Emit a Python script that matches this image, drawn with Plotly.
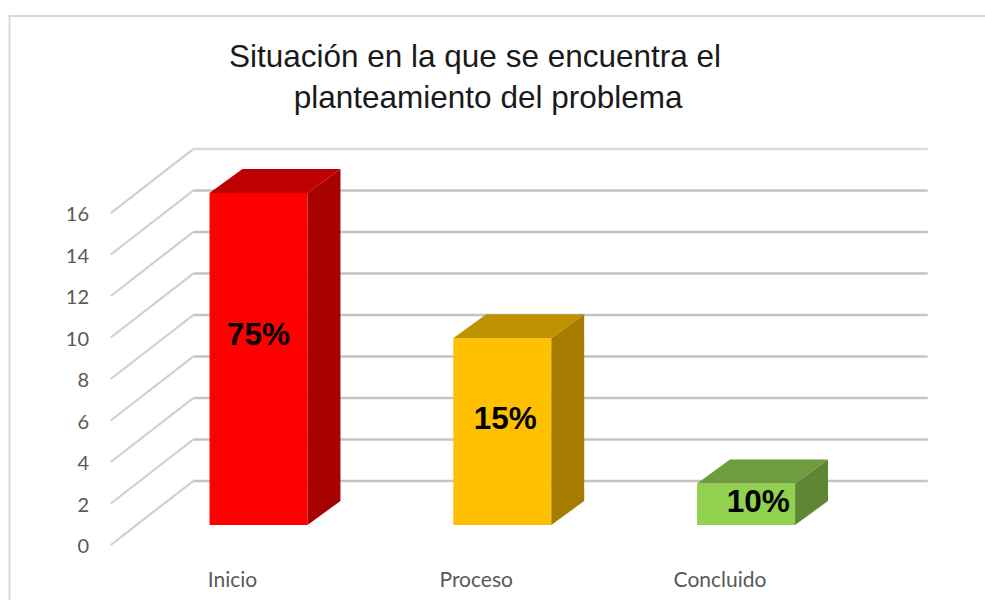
import plotly.graph_objects as go

# Data
categories = ["Inicio", "Proceso", "Concluido"]
values = [16, 9, 2]
labels = ["75%", "15%", "10%"]
y_ticks = [0, 2, 4, 6, 8, 10, 12, 14, 16]
front_colors = ["#FF0000", "#FFC000", "#92D050"]
side_colors = ["#A60000", "#A67C00", "#5F8733"]
top_colors = ["#BE0000", "#BF9000", "#6F9C3F"]
label_dx = [0.0, 0.012, 0.05]
label_y_frac = [0.565, 0.554, 0.507]

# Projection of the pseudo-3D box, in axis units
BAR_W = 0.402
DEPTH_X, DEPTH_Y = 0.135, 1.157
FLOOR_X, FLOOR_Y = -0.107, -0.964
WALL_X, WALL_Y = -0.268, 2.12
LEFT_X = -0.606
RIGHT_X = 2.745

XR = [-0.683, 2.98]
YR = [-1.928, 24.916]
W, H = 977, 592

fig = go.Figure()

for v in y_ticks:
    back = v + WALL_Y
    fig.add_trace(go.Scatter(x=[LEFT_X, WALL_X], y=[v + FLOOR_Y, back], mode="lines",
                             line=dict(color="#D0D0D0", width=2.2), hoverinfo="skip", showlegend=False))
    fig.add_trace(go.Scatter(x=[WALL_X, RIGHT_X], y=[back, back], mode="lines",
                             line=dict(color="#C4C4C4" if v < 16 else "#DCDCDC", width=2.6),
                             hoverinfo="skip", showlegend=False))

fig.add_trace(go.Bar(x=list(range(len(categories))), y=values, width=BAR_W,
                     marker=dict(color=front_colors, line=dict(width=0)),
                     xaxis="x2", yaxis="y2", showlegend=False))

for i, v in enumerate(values):
    r = i + BAR_W / 2
    l = i - BAR_W / 2
    fig.add_trace(go.Scatter(x=[r, r + DEPTH_X, r + DEPTH_X, r, r],
                             y=[0, DEPTH_Y, v + DEPTH_Y, v, 0],
                             mode="lines", fill="toself", fillcolor=side_colors[i],
                             line=dict(width=0), xaxis="x2", yaxis="y2", showlegend=False))
    fig.add_trace(go.Scatter(x=[l, l + DEPTH_X, r + DEPTH_X, r, l],
                             y=[v, v + DEPTH_Y, v + DEPTH_Y, v, v],
                             mode="lines", fill="toself", fillcolor=top_colors[i],
                             line=dict(width=0), xaxis="x2", yaxis="y2", showlegend=False))

fig.add_trace(go.Scatter(
    x=[i + d for i, d in enumerate(label_dx)],
    y=[v * f for v, f in zip(values, label_y_frac)],
    mode="text", text=labels, textposition="middle center",
    textfont=dict(family="Liberation Sans", size=31.5, color="#000000", weight="bold"),
    xaxis="x2", yaxis="y2", showlegend=False))

fig.update_layout(
    width=W, height=H,
    margin=dict(l=0, r=0, t=0, b=0),
    paper_bgcolor="white", plot_bgcolor="white",
    title=dict(text="Situación en la que se encuentra el<br>\u00a0\u00a0\u00a0planteamiento del problema",
               font=dict(family="Liberation Sans", size=31.5, color="#1a1a1a"),
               x=467 / W, xanchor="center", y=1 - 59 / H, yanchor="top"),
    xaxis=dict(domain=[84 / W, 1], range=XR, tickmode="array",
               tickvals=[i + FLOOR_X for i in range(len(categories))], ticktext=categories,
               showgrid=False, zeroline=False, showline=False, ticks="",
               tickfont=dict(family="Lato", size=21, color="#595959"), automargin=False),
    yaxis=dict(domain=[35 / H, 1], range=YR, tickmode="array",
               tickvals=[v + FLOOR_Y - 0.05 for v in y_ticks], ticktext=[str(v) for v in y_ticks],
               showgrid=False, zeroline=False, showline=False, ticks="", ticklabelstandoff=2,
               tickfont=dict(family="Lato", size=20, color="#595959"), automargin=False),
    xaxis2=dict(domain=[84 / W, 1], range=XR, overlaying="x", visible=False),
    yaxis2=dict(domain=[35 / H, 1], range=YR, overlaying="y", visible=False),
    shapes=[
        dict(type="line", xref="paper", yref="paper", x0=1.5 / W, x1=1.5 / W, y0=0, y1=1 - 7 / H,
             line=dict(color="#D9D9D9", width=2)),
        dict(type="line", xref="paper", yref="paper", x0=0.5 / W, x1=1, y0=1 - 8 / H, y1=1 - 8 / H,
             line=dict(color="#D9D9D9", width=2)),
    ],
)

fig.write_html("out.html", post_script="document.body.style.width='977px';")
